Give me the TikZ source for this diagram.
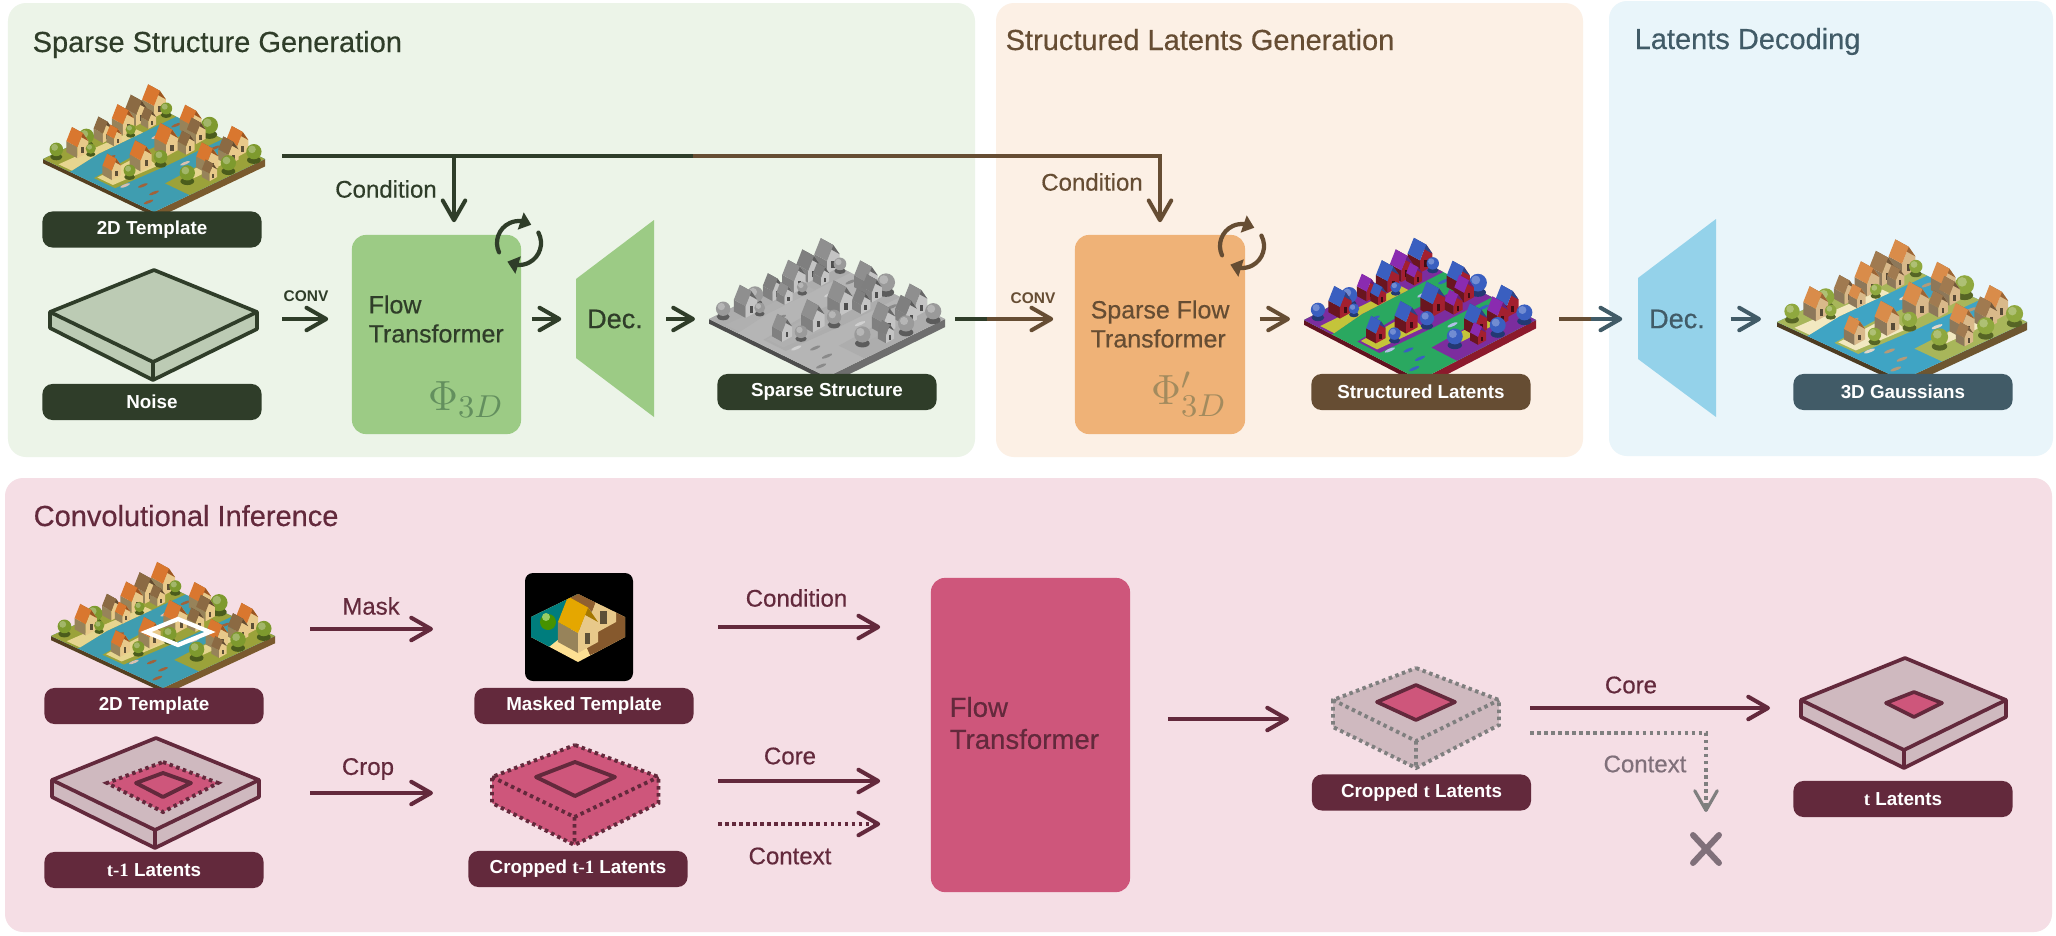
\documentclass[tikz,border=0pt]{standalone}
\usepackage{fontspec}
\setmainfont{Liberation Sans}
\newfontfamily\thinserif{Liberation Serif}
\newfontfamily\midfont[FakeBold=0.45]{Liberation Sans}
\usetikzlibrary{arrows.meta,calc,bending}

% Dark inks and fills of the four stages
\definecolor{inkG}{HTML}{2F3D29}
\definecolor{inkB}{HTML}{664D33}
\definecolor{inkS}{HTML}{415B67}
\definecolor{inkM}{HTML}{63293C}
\definecolor{panelG}{HTML}{ECF4E8}
\definecolor{panelO}{HTML}{FCF0E5}
\definecolor{panelB}{HTML}{E9F5FA}
\definecolor{panelP}{HTML}{F5DEE5}
\definecolor{fillG}{HTML}{9CCB85}
\definecolor{fillO}{HTML}{EFB277}
\definecolor{fillB}{HTML}{94D2EA}
\definecolor{fillP}{HTML}{CE567B}
\definecolor{slabG}{HTML}{BCCBB4}
\definecolor{slabP}{HTML}{CFB9BF}
\definecolor{ghost}{HTML}{7F7F7F}
\definecolor{ghostT}{HTML}{80707A}
\definecolor{phiG}{HTML}{638F5E}
\definecolor{phiO}{HTML}{A38B5E}

\tikzset{
  x=0.01cm, y=-0.01cm,
  panel/.style={rounded corners=0.18cm},
  title/.style={anchor=base west, inner sep=0pt, font=\midfont\fontsize{8.25}{10}\selectfont},
  tag/.style={rectangle, rounded corners=0.1cm, fill=#1, text=white, inner sep=0pt,
    minimum width=2.19cm, minimum height=0.36cm, font=\bfseries\fontsize{5.35}{6.5}\selectfont},
  block/.style={rectangle, rounded corners=0.14cm, fill=#1, inner sep=0pt},
  body/.style={anchor=west, align=left, inner sep=0pt, text=#1, font=\midfont\fontsize{7.1}{8.25}\selectfont},
  decname/.style={inner sep=0pt, text=#1, font=\midfont\fontsize{7.7}{9}\selectfont},
  word/.style={inner sep=0pt, text=#1, font=\midfont\fontsize{6.83}{8}\selectfont},
  conv/.style={inner sep=0pt, text=#1, font=\bfseries\fontsize{4.4}{5}\selectfont},
  flowline/.style={line width=1.15pt, draw=#1, -{Straight Barb[length=5.6pt,width=6.4pt,round]}},
  plainline/.style={line width=1.15pt, draw=#1},
  dotline/.style={line width=1.1pt, draw=#1, dash pattern=on 1pt off 1pt},
  spin/.style={line width=1.2pt, draw=#1, line cap=round, -{Triangle[length=3.2pt,width=5pt]}},
  slab/.style={line width=1.05pt, line join=round},
}

% One small gabled house, drawn in its own screen-aligned units
\newcommand{\cottage}[1]{%
  \fill[vwall!65!black] (-1,0) -- (0,.55) -- (0,-.45) -- (-1,-1) -- cycle;
  \fill[vwall] (0,.55) -- (1,0) -- (1,-1) -- (.5,-1.72) -- (0,-.45) -- cycle;
  \fill[#1!72!black] (.5,-1.72) -- (1,-1) -- (0,-1.55) -- (-.5,-2.27) -- cycle;
  \fill[#1] (0,-.45) -- (.5,-1.72) -- (-.5,-2.27) -- (-1,-1) -- cycle;
  \fill[vwall!40!black] (.35,.1) rectangle (.62,-.45);
}

% An isometric tile with canals, houses, trees and boats
\newcommand{\hamlet}[4]{%
  \pgfmathsetmacro\vscale{#3/111*0.85}
  \begin{scope}[shift={(#1,#2-#4)}, x={(#3*0.01cm,-#4*0.01cm)}, y={(-#3*0.01cm,-#4*0.01cm)}]
    \fill[vside!70!black] (0,1) -- (1,1) -- (1.04,1.04) -- (.04,1.04) -- cycle;
    \fill[vside] (1,0) -- (1,1) -- (1.07,1.07) -- (1.07,0.07) -- cycle;
    \fill[vwater] (0,0) -- (1,0) -- (1,1) -- (0,1) -- cycle;
    \fill[vland] (0,0) -- (.2,0) -- (.2,.7) -- (.24,1) -- (0,1) -- cycle;
    \fill[vsand] (.14,.3) -- (.2,.3) -- (.2,.7) -- (.24,.98) -- (.12,.98) -- cycle;
    \fill[vland] (.41,0) -- (.62,0) -- (.62,.5) -- (.6,.95) -- (.41,.95) -- (.38,.6) -- cycle;
    \fill[vsand] (.4,.5) -- (.58,.55) -- (.56,.93) -- (.42,.93) -- cycle;
    \fill[vland] (.74,0) -- (1,0) -- (1,.68) -- (.78,.68) -- (.76,.3) -- cycle;
    \fill[vsand] (.76,.1) -- (.86,.1) -- (.86,.5) -- (.78,.5) -- cycle;
    \foreach \pk/\pu/\pv/\ps in {
      1/.05/.05/14, 3/.14/.03/7, 3/.02/.14/6, 2/.05/.21/13, 4/.28/.08/0, 2/.15/.2/9,
      1/.39/.06/13, 1/.08/.36/13, 3/.52/.02/10, 5/.3/.28/0, 2/.5/.12/11, 3/.17/.38/6,
      2/.07/.53/11, 1/.16/.52/9, 3/.06/.67/9, 4/.67/.12/0, 1/.8/.05/13, 1/.47/.36/14,
      2/.56/.27/10, 1/.09/.78/13, 3/.17/.74/6, 3/.04/.92/8, 4/.29/.68/0, 3/.96/.06/9,
      2/.84/.17/12, 5/.68/.4/0, 1/.5/.62/13, 3/.58/.52/8, 1/.82/.34/13, 3/.95/.28/9,
      1/.46/.84/11, 2/.92/.42/9, 3/.56/.78/7, 3/.86/.56/9, 4/.7/.8/0, 5/.62/.88/0,
      4/.82/.82/0, 4/.88/.93/0} {
      \pgfmathsetmacro\hs{\ps*\vscale*0.01}
      \ifnum\pk>3
        \ifnum\pk=4
          \fill[vboat] (\pu,\pv) ellipse (.015 and .042);
        \else
          \fill[vboatb] (\pu,\pv) ellipse (.015 and .042);
        \fi
      \else
        \begin{scope}[shift={(\pu,\pv)}, x=\hs cm, y=-\hs cm]
          \ifcase\pk\or
            \cottage{vroof}\or
            \cottage{vroofb}\or
            \fill[vtree!60!black] (0,0) ellipse (.9 and .5);
            \fill[vtree] (0,-1.1) circle (1);
            \fill[vtree!72!white] (-.25,-1.4) circle (.5);
          \fi
        \end{scope}
      \fi
    }
  \end{scope}
}

% Palettes for the tile variants: water, land, sand, wall, roof, roof 2, tree, side, boat
\newcommand{\setpalette}[9]{%
  \definecolor{vwater}{HTML}{#1}\definecolor{vland}{HTML}{#2}\definecolor{vsand}{HTML}{#3}\definecolor{vwall}{HTML}{#4}%
  \definecolor{vroof}{HTML}{#5}\definecolor{vroofb}{HTML}{#6}\definecolor{vtree}{HTML}{#7}\definecolor{vside}{HTML}{#8}\definecolor{vboat}{HTML}{#9}%
  \colorlet{vboatb}{white!60!vboat}}
\newcommand{\paletteTemplate}{\setpalette{3F9DB0}{9BA23A}{E6D58F}{E8C98A}{D9772F}{8B6A43}{7E9A2E}{7A5A2E}{A0623A}}
\newcommand{\paletteClay}{\setpalette{B5B5B5}{ADADAD}{B0B0B0}{C4C4C4}{8F8F8F}{7F7F7F}{9A9A9A}{6E6E6E}{8A8A8A}}
\newcommand{\paletteLatent}{\setpalette{2AA860}{7C2D9E}{C4C43A}{A3202F}{3A5FC0}{8A2BB0}{3A5FC0}{8C1A2C}{3A5FC0}}
\newcommand{\paletteSoft}{\setpalette{3FA4C4}{A8B65A}{F2E8C0}{D9B98A}{D98C4A}{A07A50}{8FA83E}{6E5630}{B59A78}}

\begin{document}
\begin{tikzpicture}
\useasboundingbox (0,0) rectangle (2056,936);
\fill[white] (0,0) rectangle (2056,936);

% Stage panels
\fill[panelG, panel] (8,3) rectangle (975,457);
\fill[panelO, panel] (996,3) rectangle (1583,457);
\fill[panelB, panel] (1609,1) rectangle (2053,456);
\fill[panelP, panel] (5,478) rectangle (2052,932);

\node[title, text=inkG] (tA) at (32,52) {Sparse Structure Generation};
\node[title, text=inkB] (tB) at (1005,50) {Structured Latents Generation};
\node[title, text=inkS] (tC) at (1634,49) {Latents Decoding};
\node[title, text=inkM] (tD) at (33,526) {Convolutional Inference};

% Tiles
\begingroup\paletteTemplate
\hamlet{154}{159}{111}{53}
\hamlet{163}{636}{112}{52}
\endgroup
\begingroup\paletteClay
\hamlet{827}{319}{118}{58}
\endgroup
\begingroup\paletteLatent
\hamlet{1420}{320}{116}{60}
\endgroup
\begingroup\paletteSoft
\hamlet{1902}{322}{125}{58}
\endgroup

% Selected window on the lower tile
\draw[white, line width=1.2pt] (178,619) -- (210,632) -- (178,645) -- (146,632) -- cycle;

% Noise slab
\draw[slab, draw=inkG, fill=slabG] (154,270) -- (257,312) -- (257,329) -- (153,380) -- (50,328) -- (50,312) -- cycle;
\draw[slab, draw=inkG] (50,312) -- (153,362) -- (257,312) (153,362) -- (153,380);

% Tags of the top row
\node[tag=inkG] (tplA) at (152,229.5) {2D Template};
\node[tag=inkG] (noise) at (152,402) {Noise};
\node[tag=inkG] (sparse) at (827,392) {Sparse Structure};
\node[tag=inkB] (slat) at (1421,392) {Structured Latents};
\node[tag=inkS] (gauss) at (1903,392) {3D Gaussians};

% Transformer blocks
\node[block=fillG, minimum width=1.69cm, minimum height=1.99cm] (flowA) at (436.5,334.5) {};
\node[block=fillO, minimum width=1.70cm, minimum height=1.99cm] (flowB) at (1160,334.5) {};
\node[body=inkG] (flowAt) at (368,319) {Flow\\Transformer};
\node[body=inkB] (flowBt) at (1090,324) {Sparse Flow\\Transformer};
\node[inner sep=0pt, text=phiG, font=\fontsize{12.5}{15}\selectfont] (phiA) at (466,400) {$\Phi_{3D}$};
\node[inner sep=0pt, text=phiO, font=\fontsize{12.5}{15}\selectfont] (phiB) at (1189,394) {$\Phi'_{3D}$};

% Decoders
\fill[fillG] (576,279) -- (654,220) -- (654,417) -- (576,358) -- cycle;
\fill[fillB] (1638,278) -- (1716,219) -- (1716,417) -- (1638,359) -- cycle;
\node[decname=inkG, minimum width=0.78cm, minimum height=1.97cm] (decA) at (615,319) {Dec.};
\node[decname=inkS, minimum width=0.78cm, minimum height=1.97cm] (decB) at (1677,319) {Dec.};

% Conditioning line branching from the template
\coordinate (condStart) at (282,156);
\coordinate (condSwitch) at (693,156);
\coordinate (condTurn) at (1160,156);
\coordinate (condA) at (454,156);
\draw[plainline=inkG] (condStart) -- (condSwitch);
\draw[flowline=inkG, shorten >=0.12cm] (condA) -- (condA |- flowA.north);
\draw[flowline=inkB, shorten >=0.12cm] (condSwitch) -- (condTurn) -- (condTurn |- flowB.north);
\node[word=inkG] (condTa) at (386,189) {Condition};
\node[word=inkB] (condTb) at (1092,182) {Condition};

% Horizontal flow of the top row
\coordinate (noiseOut) at (282,319);
\coordinate (sparseOut) at (955,319);
\coordinate (sparseSwitch) at (987,319);
\coordinate (slatOut) at (1559,319);
\coordinate (slatSwitch) at (1591,319);
\coordinate (tileC) at (702,319);
\coordinate (tileD) at (1304,319);
\coordinate (tileE) at (1775,319);
\draw[flowline=inkG, shorten >=0.23cm] (noiseOut) -- (flowA.west |- noiseOut);
\draw[flowline=inkG, shorten <=0.1cm, shorten >=0.14cm] (flowA.east |- decA) -- (decA);
\draw[flowline=inkG, shorten <=0.12cm, shorten >=0.07cm] (654,319) -- (tileC);
\draw[plainline=inkG] (sparseOut) -- (sparseSwitch);
\draw[flowline=inkB, shorten >=0.21cm] (sparseSwitch) -- (flowB.west |- sparseSwitch);
\draw[flowline=inkB, shorten <=0.14cm, shorten >=0.14cm] (flowB.east |- tileD) -- (tileD);
\draw[plainline=inkB] (slatOut) -- (slatSwitch);
\draw[flowline=inkS, shorten >=0.15cm] (slatSwitch) -- (decB.west |- slatSwitch);
\draw[flowline=inkS, shorten <=0.14cm, shorten >=0.14cm] (decB.east |- tileE) -- (tileE);
\node[conv=inkG] (convA) at (306,296) {CONV};
\node[conv=inkB] (convB) at (1033,298) {CONV};

% Sampling-loop marks
\coordinate (loopA) at (519,243);
\coordinate (loopB) at (1242,246);
\foreach \lc/\lk in {loopA/inkG, loopB/inkB} {
  \draw[spin=\lk] ($(\lc)+(205:0.22cm)$) arc[start angle=205, end angle=56, radius=0.22cm];
  \draw[spin=\lk] ($(\lc)+(28:0.22cm)$) arc[start angle=28, end angle=-122, radius=0.22cm];
}

% Lower row: inputs
\node[tag=inkM] (tplB) at (154,706) {2D Template};
\node[tag=inkM] (prev) at (154,870) {{\thinserif t-1} Latents};
\node[tag=inkM] (maskT) at (584,706) {Masked Template};
\node[tag=inkM] (cropT) at (578,869) {Cropped {\thinserif t-1} Latents};

% Masked crop thumbnail
\fill[black, rounded corners=0.08cm] (525,573) rectangle (633,681);
\begin{scope}
  \clip (578,594) -- (625,617) -- (625,637) -- (578,662) -- (531,637) -- (531,617) -- cycle;
  \fill[yellow!45!orange!40!white] (525,590) rectangle (633,665);
  \fill[teal!60!cyan!70!black] (531,617) -- (578,594) -- (600,606) -- (545,650) -- (525,640) -- cycle;
  \fill[brown!70!black] (625,617) -- (625,640) -- (590,655) -- (570,610) -- (578,594) -- cycle;
  \definecolor{vwall}{HTML}{E8C98A}
  \fill[green!35!olive!85!black] (548,622) circle (0.08cm);
  \fill[green!35!olive!60!white] (546,617) circle (0.04cm);
  \begin{scope}[shift={(592,622)}, x=0.24cm, y=-0.24cm]
    \cottage{brown!75!black}
  \end{scope}
  \begin{scope}[shift={(578,642)}, x=0.2cm, y=-0.2cm]
    \cottage{orange!55!yellow!90!black}
  \end{scope}
\end{scope}

% Noisy latent slab with its cropped window
\draw[slab, draw=inkM, fill=slabP] (156,738) -- (259,780) -- (259,797) -- (155,848) -- (52,797) -- (52,780) -- cycle;
\draw[slab, draw=inkM] (52,780) -- (155,830) -- (259,780) (155,830) -- (155,848);
\fill[fillP] (163,762) -- (218,783) -- (163,812) -- (107,783) -- cycle;
\draw[dotline=inkM] (163,762) -- (218,783) -- (163,812) -- (107,783) -- cycle;
\draw[slab, draw=inkM, line width=1.1pt] (163,773) -- (191,783) -- (163,797) -- (136,783) -- cycle;

% Cropped block
\fill[fillP] (575,745) -- (658.5,777) -- (658.5,803) -- (574.5,845) -- (492,803) -- (492,777) -- cycle;
\draw[dotline=inkM] (575,745) -- (658.5,777) -- (658.5,803) -- (574.5,845) -- (492,803) -- (492,777) -- cycle;
\draw[dotline=inkM] (492,777) -- (574.5,817) -- (658.5,777) (574.5,817) -- (574.5,845);
\draw[slab, draw=inkM, line width=1.1pt] (575,762) -- (615,777) -- (575,796) -- (536,777) -- cycle;

% Mask and crop arrows
\coordinate (maskFrom) at (310,629);
\coordinate (maskTo) at (433,629);
\coordinate (cropFrom) at (310,793);
\coordinate (cropTo) at (433,793);
\draw[flowline=inkM] (maskFrom) -- (maskTo);
\draw[flowline=inkM] (cropFrom) -- (cropTo);
\node[word=inkM] (maskW) at (371,606) {Mask};
\node[word=inkM] (cropW) at (368,769) {Crop};

% Convolutional flow block
\node[block=fillP, minimum width=1.99cm, minimum height=3.14cm] (flowC) at (1030.5,735) {};
\node[body=inkM, font=\midfont\fontsize{7.85}{9.1}\selectfont] (flowCt) at (949,723) {Flow\\Transformer};

% Inputs to the block
\coordinate (cIn) at (718,627);
\coordinate (kIn) at (718,781);
\coordinate (xIn) at (718,824);
\draw[flowline=inkM, shorten >=0.5cm] (cIn) -- (flowC.west |- cIn);
\draw[flowline=inkM, shorten >=0.5cm] (kIn) -- (flowC.west |- kIn);
\draw[dotline=inkM, shorten >=0.55cm] (xIn) -- (flowC.west |- xIn);
\draw[flowline=inkM, shorten >=0.5cm, dash pattern=on 0pt off 200pt] (xIn) -- (flowC.west |- xIn);
\node[word=inkM] (cW) at (796.5,598) {Condition};
\node[word=inkM] (kW) at (790,756) {Core};
\node[word=inkM] (xW) at (790,856) {Context};

% Output of the block
\coordinate (tileOut) at (1289,719);
\draw[flowline=inkM, shorten <=0.37cm] (flowC.east |- tileOut) -- (tileOut);

% Predicted block, crop borders in grey
\fill[slabP] (1416,668) -- (1499,700) -- (1499,725) -- (1416,768) -- (1333,727) -- (1333,700) -- cycle;
\draw[dotline=ghost] (1416,668) -- (1499,700) -- (1499,725) -- (1416,768) -- (1333,727) -- (1333,700) -- cycle;
\draw[dotline=ghost] (1333,700) -- (1416,741) -- (1499,700) (1416,741) -- (1416,768);
\draw[slab, draw=inkM, fill=fillP] (1416,685) -- (1455,702) -- (1416,720) -- (1377,702) -- cycle;
\node[tag=inkM] (cropNow) at (1421.5,792.5) {Cropped {\thinserif t} Latents};

% Final slab
\draw[slab, draw=inkM, fill=slabP] (1905,658) -- (2006,700) -- (2006,717) -- (1904,768) -- (1801,717) -- (1801,700) -- cycle;
\draw[slab, draw=inkM] (1801,700) -- (1904,750) -- (2006,700) (1904,750) -- (1904,768);
\draw[slab, draw=inkM, fill=fillP] (1914,692) -- (1942,703) -- (1914,717) -- (1886,703) -- cycle;
\node[tag=inkM] (now) at (1903,799) {{\thinserif t} Latents};

% Core kept, context dropped
\coordinate (coreFrom) at (1530,708);
\coordinate (coreTo) at (1770,708);
\coordinate (ctxFrom) at (1530,733);
\coordinate (ctxTurn) at (1706,733);
\coordinate (dropAt) at (1706,849);
\draw[flowline=inkM] (coreFrom) -- (coreTo);
\draw[dotline=ghost] (ctxFrom) -- (ctxTurn) -- ([yshift=0.38cm]dropAt);
\draw[flowline=ghost, line width=0.9pt, dash pattern=on 0pt off 200pt, shorten >=0.37cm] ([yshift=0.6cm]dropAt) -- (dropAt);
\node[word=inkM] (coreW) at (1631,685) {Core};
\node[word=ghostT] (ctxW) at (1645,764) {Context};
\draw[ghostT, line width=1.7pt, line cap=round] ($(dropAt)+(-13,14)$) -- ($(dropAt)+(13,-14)$) ($(dropAt)+(-13,-14)$) -- ($(dropAt)+(13,14)$);
\end{tikzpicture}
\end{document}
